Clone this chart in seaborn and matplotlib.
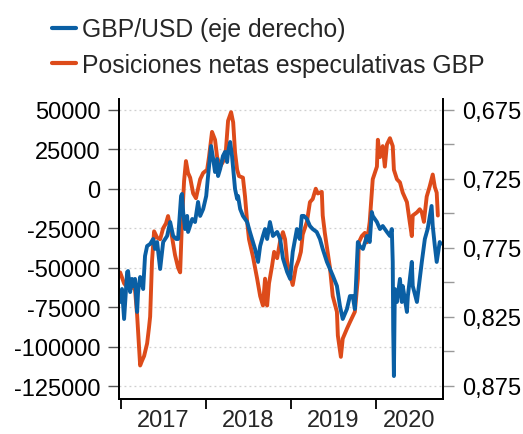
import matplotlib
matplotlib.use("Agg")
import matplotlib.pyplot as plt
import matplotlib.dates as mdates
import matplotlib.ticker as mticker
from matplotlib.lines import Line2D
import seaborn as sns
import pandas as pd

# ---------------- data ----------------
pos_dates = [
    "2016-12-28", "2017-01-14", "2017-01-31", "2017-02-17", "2017-03-02", "2017-03-11",
    "2017-03-24", "2017-04-01", "2017-04-10", "2017-04-23", "2017-05-01", "2017-05-06",
    "2017-05-14", "2017-05-23", "2017-06-05", "2017-06-18", "2017-07-01", "2017-07-13",
    "2017-07-22", "2017-08-04", "2017-08-21", "2017-09-03", "2017-09-12", "2017-09-20",
    "2017-09-29", "2017-10-07", "2017-10-16", "2017-10-25", "2017-11-07", "2017-11-19",
    "2017-12-07", "2017-12-20", "2018-01-06", "2018-01-14", "2018-01-27", "2018-02-09",
    "2018-02-18", "2018-03-03", "2018-03-15", "2018-03-28", "2018-04-06", "2018-04-19",
    "2018-04-28", "2018-05-06", "2018-05-15", "2018-05-23", "2018-06-09", "2018-06-18",
    "2018-06-27", "2018-07-05", "2018-07-22", "2018-08-09", "2018-08-22", "2018-09-03",
    "2018-09-12", "2018-09-21", "2018-09-29", "2018-10-12", "2018-10-21", "2018-11-03",
    "2018-11-16", "2018-11-28", "2018-12-07", "2018-12-16", "2018-12-29", "2019-01-09",
    "2019-01-22", "2019-02-04", "2019-02-13", "2019-02-21", "2019-03-11", "2019-03-24",
    "2019-04-05", "2019-04-18", "2019-04-27", "2019-05-14", "2019-05-18", "2019-05-27",
    "2019-06-05", "2019-06-18", "2019-06-30", "2019-07-18", "2019-07-22", "2019-08-04",
    "2019-08-12", "2019-08-30", "2019-09-12", "2019-10-03", "2019-10-16", "2019-10-20",
    "2019-11-02", "2019-11-15", "2019-11-24", "2019-12-06", "2019-12-19", "2020-01-06",
    "2020-01-10", "2020-01-19", "2020-01-31", "2020-02-09", "2020-02-18", "2020-03-02",
    "2020-03-14", "2020-03-19", "2020-04-01", "2020-04-14", "2020-04-26", "2020-05-14",
    "2020-05-26", "2020-06-04", "2020-06-08", "2020-06-26", "2020-07-08", "2020-07-17",
    "2020-07-26", "2020-08-07", "2020-08-20", "2020-09-02", "2020-09-11", "2020-09-19",
    "2020-09-24",
]
pos_values = [
    -53000, -60000, -63000, -62000, -64000, -80000,
    -112000, -109000, -106000, -98000, -88000, -81000,
    -46000, -27000, -31000, -32000, -25000, -22000,
    -17300, -27000, -42000, -50000, -53000, -20000,
    5000, 17500, 10000, 7000, -3000, -6000,
    6000, 10000, 12000, 20000, 36000, 31000,
    20000, 14000, 17000, 25000, 43000, 48500,
    42000, 23000, 12000, 8000, 7000, -5000,
    -21000, -32000, -43000, -57000, -68000, -74000,
    -57000, -74000, -60000, -49000, -40000, -44000,
    -33000, -27500, -32000, -46000, -55000, -61000,
    -50000, -45000, -40000, -29000, -21000, -8500,
    -6500, 0, -3000, -2000, -17000, -28000,
    -37000, -50000, -68000, -78000, -93000, -106500,
    -95000, -88700, -84500, -78000, -57000, -34000,
    -30000, -28000, -34000, -21000, 6000, 14000,
    31000, 20000, 27000, 14000, 28000, 32000,
    27000, 12000, 6000, 4000, -2500, -8500,
    -21000, -30000, -17000, -15000, -13000, -15000,
    -21000, -5000, 1500, 9000, 1000, -2500,
    -17000,
]

fx_dates = [
    "2016-12-28", "2017-01-05", "2017-01-14", "2017-01-27", "2017-01-31", "2017-02-09",
    "2017-02-17", "2017-02-22", "2017-03-02", "2017-03-11", "2017-03-15", "2017-03-24",
    "2017-04-01", "2017-04-06", "2017-04-14", "2017-04-23", "2017-05-06", "2017-05-19",
    "2017-05-27", "2017-06-05", "2017-06-18", "2017-07-01", "2017-07-18", "2017-07-31",
    "2017-08-13", "2017-08-26", "2017-09-03", "2017-09-16", "2017-09-20", "2017-09-25",
    "2017-10-03", "2017-10-12", "2017-10-16", "2017-11-03", "2017-11-15", "2017-11-28",
    "2017-12-07", "2017-12-20", "2018-01-02", "2018-01-10", "2018-01-23", "2018-02-01",
    "2018-02-09", "2018-02-18", "2018-02-22", "2018-03-03", "2018-03-15", "2018-03-24",
    "2018-04-02", "2018-04-06", "2018-04-15", "2018-04-23", "2018-04-28", "2018-05-06",
    "2018-05-15", "2018-05-19", "2018-05-28", "2018-06-09", "2018-06-27", "2018-07-09",
    "2018-07-22", "2018-07-31", "2018-08-13", "2018-08-22", "2018-09-03", "2018-09-12",
    "2018-09-21", "2018-10-03", "2018-10-16", "2018-11-03", "2018-11-16", "2018-11-28",
    "2018-12-16", "2018-12-29", "2019-01-05", "2019-01-09", "2019-01-27", "2019-02-08",
    "2019-02-17", "2019-02-26", "2019-03-11", "2019-03-24", "2019-04-05", "2019-04-22",
    "2019-05-06", "2019-05-18", "2019-06-05", "2019-06-18", "2019-06-30", "2019-07-18",
    "2019-07-31", "2019-08-12", "2019-08-30", "2019-09-12", "2019-09-24", "2019-10-03",
    "2019-10-16", "2019-10-24", "2019-11-07", "2019-11-24", "2019-12-06", "2019-12-15",
    "2019-12-19", "2020-01-06", "2020-01-19", "2020-01-31", "2020-02-18", "2020-03-02",
    "2020-03-10", "2020-03-14", "2020-03-16", "2020-03-19", "2020-03-23", "2020-04-01",
    "2020-04-14", "2020-04-22", "2020-04-26", "2020-05-14", "2020-05-18", "2020-06-04",
    "2020-06-08", "2020-06-26", "2020-07-08", "2020-07-17", "2020-07-30", "2020-08-11",
    "2020-08-28", "2020-09-02", "2020-09-11", "2020-09-19", "2020-10-02", "2020-10-06",
]
fx_values = [
    0.8142, 0.8048, 0.8265, 0.7925, 0.7918, 0.8070,
    0.7975, 0.8026, 0.7975, 0.8214, 0.8070, 0.7961,
    0.7997, 0.8048, 0.7809, 0.7737, 0.7722, 0.7686,
    0.7758, 0.7708, 0.7903, 0.7708, 0.7664, 0.7563,
    0.7664, 0.7686, 0.7686, 0.7375, 0.7360, 0.7491,
    0.7614, 0.7519, 0.7635, 0.7541, 0.7563, 0.7418,
    0.7519, 0.7469, 0.7375, 0.7230, 0.7013, 0.7107,
    0.7201, 0.7107, 0.7230, 0.7179, 0.7085, 0.7056,
    0.7129, 0.7056, 0.6984, 0.7085, 0.7179, 0.7324,
    0.7396, 0.7375, 0.7469, 0.7519, 0.7563, 0.7635,
    0.7708, 0.7758, 0.7852, 0.7737, 0.7664, 0.7614,
    0.7686, 0.7563, 0.7664, 0.7635, 0.7686, 0.7827,
    0.7925, 0.7975, 0.7852, 0.7780, 0.7614, 0.7686,
    0.7519, 0.7519, 0.7541, 0.7592, 0.7614, 0.7635,
    0.7686, 0.7758, 0.7852, 0.7903, 0.7950, 0.8026,
    0.8171, 0.8265, 0.8193, 0.8099, 0.8099, 0.8193,
    0.7708, 0.7737, 0.7758, 0.7664, 0.7708, 0.7491,
    0.7519, 0.7563, 0.7614, 0.7592, 0.7635, 0.7664,
    0.7614, 0.7852, 0.8337, 0.8678, 0.8048, 0.8142,
    0.7975, 0.8142, 0.8026, 0.8214, 0.8099, 0.7852,
    0.8026, 0.8142, 0.7975, 0.7852, 0.7686, 0.7614,
    0.7447, 0.7592, 0.7737, 0.7852, 0.7708, 0.7720,
]

year_labels = ["2017", "2018", "2019", "2020"]
left_ticks = [50000, 25000, 0, -25000, -50000, -75000, -100000, -125000]
right_ticks = [0.675, 0.725, 0.775, 0.825, 0.875]
right_minor_ticks = [0.700, 0.750, 0.800, 0.850]
legend_labels = ["GBP/USD (eje derecho)", "Posiciones netas especulativas GBP"]

# ---------------- style ----------------
BLUE = "#0a5fa4"
ORANGE = "#dd4b1a"
FS = 17

sns.set_style("white")
plt.rcParams["font.family"] = ["Liberation Sans", "DejaVu Sans"]

fig = plt.figure(figsize=(5.23, 4.35), dpi=100)
ax = fig.add_axes([0.2266, 0.0805, 0.6204, 0.6895])
ax2 = ax.twinx()

df_pos = pd.DataFrame({"fecha": pd.to_datetime(pos_dates), "valor": pos_values})
df_fx = pd.DataFrame({"fecha": pd.to_datetime(fx_dates), "valor": fx_values})

sns.lineplot(data=df_pos, x="fecha", y="valor", ax=ax, color=ORANGE, linewidth=2.8)
sns.lineplot(data=df_fx, x="fecha", y="valor", ax=ax2, color=BLUE, linewidth=2.8)

xmin = pd.Timestamp("2016-12-21")
xmax = pd.Timestamp("2020-10-16")
ax.set_xlim(xmin, xmax)
ax.set_ylim(-133200, 56800)
ax2.set_ylim(0.8844, 0.6673)

for a in (ax, ax2):
    a.set_xlabel("")
    a.set_ylabel("")
    a.spines["top"].set_visible(False)
    for s in ("left", "right", "bottom"):
        a.spines[s].set_color("black")
        a.spines[s].set_linewidth(1.3)

# left axis
ax.set_yticks(left_ticks)
ax.yaxis.set_major_formatter(mticker.FuncFormatter(lambda v, p: f"{v:.0f}"))
ax.tick_params(axis="y", which="major", left=True, direction="out", length=8, width=1.0,
               color="#555555", labelsize=FS, pad=5, labelcolor="black")
ax.yaxis.grid(True, linestyle=(0, (1.5, 2.5)), color="#cfcfcf", linewidth=0.9)
ax.xaxis.grid(False)

# right axis
ax2.set_yticks(right_ticks)
ax2.set_yticks(right_minor_ticks, minor=True)
ax2.yaxis.set_major_formatter(
    mticker.FuncFormatter(lambda v, p: f"{v:.3f}".replace(".", ",")))
ax2.tick_params(axis="y", which="both", right=True, direction="out", length=8, width=1.0,
                color="#999999", labelsize=FS, pad=6, labelcolor="black")
ax2.grid(False)

# x axis: year boundaries as ticks, labels centered in each span
year_starts = [pd.Timestamp(f"{y}-01-01") for y in year_labels]
bounds = year_starts + [xmax]
mids = [a + (b - a) / 2 for a, b in zip(bounds[:-1], bounds[1:])]
ax.set_xticks([mdates.date2num(d) for d in year_starts])
ax.set_xticklabels([])
ax.set_xticks([mdates.date2num(d) for d in mids], minor=True)
ax.set_xticklabels(year_labels, minor=True)
ax.tick_params(axis="x", which="major", bottom=True, direction="out", length=7, width=1.3,
               color="black")
ax.tick_params(axis="x", which="minor", bottom=True, length=0, labelsize=FS, pad=7)

# legend
handles = [Line2D([0], [0], color=BLUE, linewidth=3),
           Line2D([0], [0], color=ORANGE, linewidth=3)]
fig.legend(handles, legend_labels, loc="upper left", bbox_to_anchor=(0.099, 0.958),
           frameon=False, fontsize=17.8, handlelength=0.98, handletextpad=0.25,
           labelspacing=0.47, borderpad=0, borderaxespad=0)

fig.savefig("out.png", dpi=100)
